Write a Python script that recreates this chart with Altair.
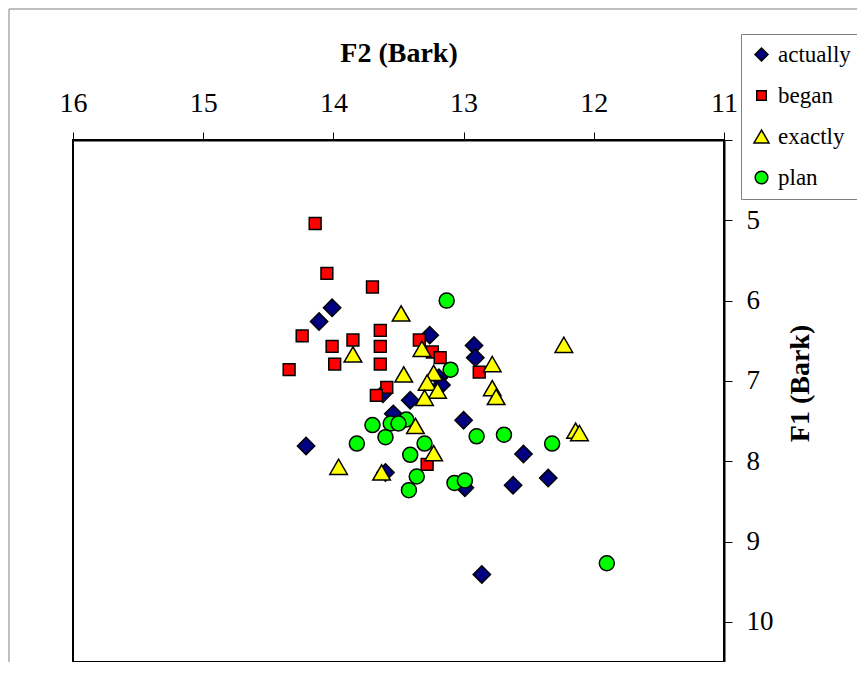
import altair as alt
import pandas as pd

categories = ["actually", "began", "exactly", "plan"]
fill_colors = ["#000080", "#FF0000", "#FFFF00", "#00FF00"]
shapes = ["diamond", "square", "triangle-up", "circle"]

actually_f2 = [14.01, 14.11, 13.26, 12.92, 12.91, 13.19, 13.17, 13.62, 13.41, 13.54,
               13.00, 14.21, 12.54, 13.60, 12.99, 12.62, 12.35, 12.86]
actually_f1 = [6.09, 6.26, 6.43, 6.56, 6.71, 6.96, 7.05, 7.16, 7.24, 7.41,
               7.49, 7.81, 7.91, 8.14, 8.33, 8.30, 8.21, 9.41]

began_f2 = [14.14, 14.05, 13.70, 14.24, 14.01, 13.85, 13.64, 13.64, 13.64, 13.99,
            14.34, 13.34, 13.24, 13.18, 12.88, 13.59, 13.67, 13.28]
began_f1 = [5.04, 5.66, 5.83, 6.44, 6.57, 6.49, 6.37, 6.57, 6.79, 6.79,
            6.86, 6.49, 6.64, 6.71, 6.89, 7.08, 7.18, 8.04]

exactly_f2 = [13.48, 13.85, 13.32, 12.23, 12.78, 13.46, 13.23, 13.28, 13.20, 13.30,
              12.78, 12.75, 13.37, 12.14, 12.11, 13.23, 13.96, 13.63]
exactly_f1 = [6.16, 6.67, 6.60, 6.55, 6.79, 6.92, 6.90, 7.02, 7.12, 7.21,
              7.09, 7.20, 7.56, 7.62, 7.65, 7.90, 8.07, 8.14]

plan_f2 = [13.13, 13.10, 13.44, 13.56, 13.50, 13.70, 13.60, 13.82, 13.30, 12.90,
           12.69, 12.32, 13.41, 13.36, 13.42, 13.07, 12.99, 11.90]
plan_f1 = [6.00, 6.86, 7.48, 7.53, 7.53, 7.55, 7.70, 7.78, 7.78, 7.69,
           7.67, 7.78, 7.92, 8.19, 8.36, 8.27, 8.24, 9.27]

x_ticks = [16, 15, 14, 13, 12, 11]
y_ticks = [4, 5, 6, 7, 8, 9, 10]

# marker areas (px^2) for plot marks and legend symbols
mark_sizes = {"actually": 300, "began": 140, "exactly": 310, "plan": 225}
legend_sizes = {"actually": 169, "began": 90, "exactly": 225, "plan": 160}

series_data = {
    "actually": (actually_f2, actually_f1),
    "began": (began_f2, began_f1),
    "exactly": (exactly_f2, exactly_f1),
    "plan": (plan_f2, plan_f1),
}

FONT = "Liberation Serif"

size_expr = " : ".join(
    f"datum && datum.value === '{k}' ? {v}" for k, v in legend_sizes.items()
) + " : 200"

legend = alt.Legend(
    title=None,
    orient="none",
    legendX=668,
    legendY=-106,
    fillColor="white",
    strokeColor="#808080",
    padding=9,
    rowPadding=17,
    labelFont=FONT,
    labelFontSize=23,
    labelColor="black",
    labelOffset=5,
    symbolSize=alt.ExprRef(expr=size_expr),
    symbolStrokeColor="black",
    symbolStrokeWidth=1.5,
)

x_enc = alt.X(
    "F2:Q",
    scale=alt.Scale(domain=[11, 16], reverse=True, nice=False, zero=False),
    axis=alt.Axis(
        orient="top",
        title="F2 (Bark)",
        values=x_ticks,
        grid=False,
        domainColor="black",
        domainWidth=2,
        tickColor="black",
        tickSize=8,
        tickWidth=1,
        labelFont=FONT,
        labelFontSize=28,
        labelColor="black",
        labelBaseline="alphabetic",
        labelPadding=21,
        labelFlush=False,
        labelOverlap=False,
        titleFont=FONT,
        titleFontSize=28,
        titleFontWeight="bold",
        titleColor="black",
        titleBaseline="alphabetic",
        titleY=-79,
    ),
)
y_enc = alt.Y(
    "F1:Q",
    scale=alt.Scale(domain=[4, 10.5], reverse=True, nice=False, zero=False),
    axis=alt.Axis(
        orient="right",
        title="F1 (Bark)",
        values=y_ticks,
        labelExpr="datum.value == 4 ? '' : datum.label",
        grid=False,
        domainColor="black",
        domainWidth=2,
        tickColor="black",
        tickSize=8,
        tickWidth=1,
        labelFont=FONT,
        labelFontSize=27,
        labelColor="black",
        labelPadding=14,
        labelFlush=False,
        labelOverlap=False,
        titleFont=FONT,
        titleFontSize=28,
        titleFontWeight="bold",
        titleColor="black",
        titleAngle=270,
        titleAlign="center",
        titleBaseline="middle",
        titleX=76,
        titleY=243,
    ),
)
color_enc = alt.Color(
    "series:N", scale=alt.Scale(domain=categories, range=fill_colors), legend=legend
)
shape_enc = alt.Shape(
    "series:N", scale=alt.Scale(domain=categories, range=shapes), legend=legend
)

layers = []
# drawing order: actually, began, plan, exactly (later on top)
for name in ["actually", "began", "plan", "exactly"]:
    xs, ys = series_data[name]
    d = pd.DataFrame({"series": name, "F2": xs, "F1": ys})
    layers.append(
        alt.Chart(d)
        .mark_point(filled=True, stroke="black", strokeWidth=1.5, opacity=1,
                    size=mark_sizes[name])
        .encode(x=x_enc, y=y_enc, color=color_enc, shape=shape_enc)
    )

frame_src = alt.Data(values=[{"k": 1}])
frame_top = alt.Chart(frame_src).mark_rule(color="#808080", strokeWidth=1).encode(
    x=alt.value(-64), x2=alt.value(800), y=alt.value(-131)
)
frame_left = alt.Chart(frame_src).mark_rule(color="#808080", strokeWidth=1).encode(
    x=alt.value(-64), y=alt.value(-131), y2=alt.value(540)
)

chart = alt.layer(frame_top, frame_left, *layers).properties(
    width=651,
    height=522,
    autosize=alt.AutoSizeParams(type="none"),
    padding={"left": 65, "top": 132, "right": 133, "bottom": 0},
    background="white",
).configure_view(
    stroke="black", strokeWidth=2
)

chart.save("out.html", embed_options={"renderer": "svg", "actions": False})
